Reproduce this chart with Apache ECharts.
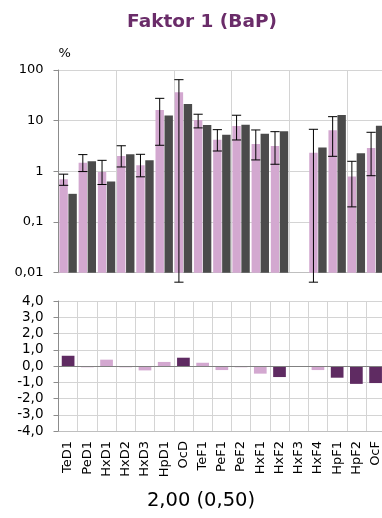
<!DOCTYPE html>
<html>
<head>
<meta charset="utf-8">
<script src="https://cdn.jsdelivr.net/npm/echarts@6/dist/echarts.min.js"></script>
<style>
html,body{margin:0;padding:0;background:#fff;}
#chart{width:382px;height:518px;}
</style>
</head>
<body>
<div id="chart"></div>
<script>
// ---- data ----
var categories = ['TeD1','PeD1','HxD1','HxD2','HxD3','HpD1','OcD','TeF1','PeF1','PeF2','HxF1','HxF2','HxF3','HxF4','HpF1','HpF2','OcF'];
var pinkValues = [0.70, 1.47, 0.97, 2.01, 1.32, 16.3, 36.3, 10.3, 4.2, 7.86, 3.47, 3.17, null, 2.34, 6.46, 0.79, 2.9];
var darkValues = [0.36, 1.58, 0.63, 2.17, 1.65, 12.6, 21.3, 8.2, 5.3, 8.3, 5.55, 6.17, null, 2.94, 12.9, 2.27, 7.98];
var errLow  = [0.53, 0.99, 0.55, 1.22, 0.78, 3.27, 0.0065, 7.2, 2.52, 4.16, 1.68, 1.38, null, 0.0065, 1.98, 0.199, 0.82];
var errHigh = [0.88, 2.14, 1.65, 3.2, 2.17, 27.6, 64.4, 13.4, 6.65, 12.8, 6.56, 6.07, null, 6.76, 12.0, 1.58, 5.9];
var diffValues = [0.63, -0.08, 0.39, -0.08, -0.27, 0.25, 0.51, 0.2, -0.25, -0.08, -0.47, -0.68, null, -0.25, -0.72, -1.1, -1.05];
var titleText = 'Faktor 1 (BaP)';
var subtitleText = '2,00 (0,50)';
var topAxisName = '%';
var logMin = 0.01, logMax = 100;

// ---- style ----
var FONT = 'DejaVu Sans';
var PINK = '#D3A8D0';
var DARK = '#4B4B4B';
var PURPLE = '#5F2B62';
var GRID = '#D4D4D4';
var AXIS = '#8C8C8C';
var barW = 8.4, barGapPx = 0.6;
var half = (barW + barGapPx) / 2;

var chart = echarts.init(document.getElementById('chart'), null, {renderer: 'canvas'});

function pairData(vals) {
  var out = [];
  for (var i = 0; i < vals.length; i++) if (vals[i] != null) out.push([i, vals[i]]);
  return out;
}
var errData = [];
for (var i = 0; i < categories.length; i++) {
  if (errLow[i] != null && errHigh[i] != null) errData.push([i, errLow[i], errHigh[i]]);
}

function barRenderer(offset, color) {
  return function (params, api) {
    var idx = api.value(0);
    var top = api.coord([idx, api.value(1)]);
    var base = api.coord([idx, logMin]);
    var cx = top[0] + offset;
    return {
      type: 'rect',
      shape: {x: cx - barW / 2, y: top[1], width: barW, height: base[1] - top[1]},
      style: {fill: color}
    };
  };
}

function renderErr(params, api) {
  var idx = api.value(0);
  var pLo = api.coord([idx, api.value(1)]);
  var pHi = api.coord([idx, api.value(2)]);
  var x = pLo[0] - half;
  var cap = 4.6;
  var st = {stroke: '#000', lineWidth: 1};
  return {
    type: 'group',
    children: [
      {type: 'line', shape: {x1: x, y1: pLo[1], x2: x, y2: pHi[1]}, style: st},
      {type: 'line', shape: {x1: x - cap, y1: pHi[1], x2: x + cap, y2: pHi[1]}, style: st},
      {type: 'line', shape: {x1: x - cap, y1: pLo[1], x2: x + cap, y2: pLo[1]}, style: st}
    ]
  };
}

function fmtLog(v) {
  var n = Number(Number(v).toPrecision(6));
  return String(n).replace('.', ',');
}

var option = {
  animation: false,
  backgroundColor: '#fff',
  textStyle: {fontFamily: FONT},
  graphic: [
    {type: 'text', x: 202, y: 22, style: {text: titleText, font: 'bold 18.5px "DejaVu Sans"', fill: '#6A2C69', textAlign: 'center', textVerticalAlign: 'middle'}},
    {type: 'text', x: 201, y: 501, style: {text: subtitleText, font: '19.5px "DejaVu Sans"', fill: '#000', textAlign: 'center', textVerticalAlign: 'middle'}}
  ],
  grid: [
    {left: 58.5, top: 70, width: 326.7, height: 202.7, outerBoundsMode: 'none', containLabel: false},
    {left: 58.5, top: 301, width: 326.7, height: 130, outerBoundsMode: 'none', containLabel: false}
  ],
  xAxis: [
    {
      type: 'category', gridIndex: 0, data: categories,
      axisLine: {show: true, lineStyle: {color: '#BFBFBF'}},
      axisTick: {show: false}, axisLabel: {show: false},
      splitLine: {show: true, lineStyle: {color: GRID, width: 1}}
    },
    {
      type: 'category', gridIndex: 1, data: categories, position: 'bottom',
      axisLine: {show: true, onZero: false, lineStyle: {color: '#BFBFBF'}},
      axisTick: {show: false},
      axisLabel: {show: true, rotate: 90, interval: 0, margin: 10, fontFamily: FONT, fontSize: 13, color: '#000'},
      splitLine: {show: true, lineStyle: {color: GRID, width: 1}}
    }
  ],
  yAxis: [
    {
      type: 'log', gridIndex: 0, logBase: 10, min: logMin, max: logMax,
      name: topAxisName, nameLocation: 'end', nameGap: 16.5,
      nameTextStyle: {fontFamily: FONT, fontSize: 13, color: '#000', align: 'left', verticalAlign: 'middle'},
      axisLine: {show: true, lineStyle: {color: AXIS}},
      axisTick: {show: true, inside: false, length: 5, lineStyle: {color: AXIS}},
      axisLabel: {margin: 15, fontFamily: FONT, fontSize: 13, color: '#000', formatter: fmtLog},
      splitLine: {show: true, lineStyle: {color: GRID, width: 1}}
    },
    {
      type: 'value', gridIndex: 1, min: -4, max: 4, interval: 1,
      axisLine: {show: true, lineStyle: {color: AXIS}},
      axisTick: {show: true, inside: false, length: 5, lineStyle: {color: AXIS}},
      axisLabel: {margin: 15, fontFamily: FONT, fontSize: 13.5, color: '#000',
        formatter: function (v) { return v.toFixed(1).replace('.', ','); }},
      splitLine: {show: true, lineStyle: {color: GRID, width: 1}}
    }
  ],
  series: [
    {
      type: 'custom', xAxisIndex: 0, yAxisIndex: 0, data: pairData(pinkValues),
      renderItem: barRenderer(-half, PINK), z: 2, encode: {x: 0, y: 1}
    },
    {
      type: 'custom', xAxisIndex: 0, yAxisIndex: 0, data: pairData(darkValues),
      renderItem: barRenderer(half, DARK), z: 2, encode: {x: 0, y: 1}
    },
    {
      type: 'custom', xAxisIndex: 0, yAxisIndex: 0, data: errData,
      renderItem: renderErr, clip: false, z: 5,
      encode: {x: 0, y: [1, 2]}
    },
    {
      type: 'bar', xAxisIndex: 1, yAxisIndex: 1, barWidth: 12.7,
      data: diffValues.map(function (v) {
        return v == null ? null : {value: v, itemStyle: {color: Math.abs(v) >= 0.5 ? PURPLE : PINK}};
      }),
      markLine: {
        silent: true, symbol: 'none', label: {show: false},
        lineStyle: {color: '#808080', width: 1, type: 'solid'},
        data: [{yAxis: 0}]
      }
    }
  ]
};
chart.setOption(option);
</script>
</body>
</html>
